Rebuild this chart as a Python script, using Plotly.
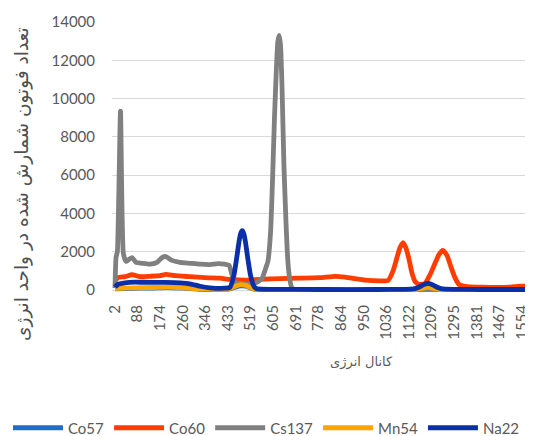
import plotly.graph_objects as go

# ---------------- data ----------------
x_tick_labels = [2, 88, 174, 260, 346, 433, 519, 605, 691, 778, 864, 950,
                 1036, 1122, 1209, 1295, 1381, 1467, 1554]
y_tick_values = [0, 2000, 4000, 6000, 8000, 10000, 12000, 14000]

series_names = ["Co57", "Co60", "Cs137", "Mn54", "Na22"]
series_colors = ["#1A6FCC", "#FF3D00", "#808080", "#FFA500", "#0A2FA6"]

ch_co57 = [2, 40, 100, 150, 200, 260, 330, 400, 440, 460, 480, 500, 520, 540,
           600, 800, 1000, 1150, 1175, 1195, 1215, 1240, 1400, 1640]
cnt_co57 = [60, 80, 100, 110, 130, 100, 40, 30, 60, 150, 220, 200, 100, 20,
            10, 10, 10, 20, 80, 130, 80, 20, 10, 10]

ch_co60 = [2, 13, 40, 67, 97, 135, 174, 196, 231, 288, 345, 402, 440, 498,
           555, 631, 707, 783, 841, 879, 917, 955, 1012, 1043, 1062, 1077,
           1088, 1100, 1111, 1123, 1134, 1146, 1161, 1184, 1203, 1222, 1237,
           1252, 1268, 1283, 1298, 1313, 1336, 1400, 1508, 1546, 1640]
cnt_co60 = [500, 650, 700, 800, 700, 720, 750, 820, 750, 700, 650, 620, 560,
            520, 560, 600, 620, 650, 720, 680, 600, 520, 480, 500, 1000, 1700,
            2200, 2480, 2200, 1600, 900, 450, 300, 350, 800, 1400, 1850,
            2070, 1800, 1200, 650, 300, 200, 150, 150, 200, 200]

ch_cs137 = [2, 6, 11, 23, 34, 44, 55, 67, 82, 105, 135, 162, 181, 196, 219,
            250, 288, 326, 364, 395, 421, 437, 448, 459, 479, 509, 536, 562,
            578, 585, 595, 602, 610, 618, 623, 628, 633, 639, 646, 654, 661,
            669, 677, 690, 900, 1200, 1640]
cnt_cs137 = [100, 1700, 2000, 9350, 1900, 1500, 1600, 1700, 1450, 1400, 1350,
             1450, 1700, 1750, 1550, 1450, 1400, 1350, 1330, 1380, 1350, 1300,
             800, 400, 350, 300, 350, 600, 1200, 1500, 3000, 5500, 9000,
             11800, 13000, 13300, 12800, 10500, 6500, 3500, 1500, 500, 100,
             30, 20, 20, 10]

ch_mn54 = [2, 40, 100, 150, 200, 260, 330, 400, 440, 460, 480, 500, 520, 540,
           600, 800, 1000, 1150, 1175, 1195, 1215, 1240, 1400, 1640]
cnt_mn54 = [80, 100, 120, 130, 150, 120, 60, 40, 80, 200, 280, 250, 120, 30,
            20, 20, 20, 30, 100, 160, 100, 30, 10, 10]

ch_na22 = [2, 13, 40, 78, 135, 193, 250, 288, 326, 364, 421, 440, 455, 465,
           475, 481, 487, 493, 499, 509, 519, 534, 545, 600, 800, 1000, 1100,
           1140, 1160, 1180, 1195, 1210, 1230, 1250, 1300, 1400, 1500, 1640]
cnt_na22 = [150, 300, 380, 420, 400, 400, 380, 330, 200, 120, 100, 145, 750,
            1590, 2540, 2950, 3100, 2950, 2540, 1590, 750, 145, 60, 40, 30,
            30, 40, 60, 150, 290, 350, 290, 150, 60, 40, 30, 30, 30]

x_title = "کانال انرژی"
y_title = "تعداد فوتون شمارش شده در واحد انرژی"

# ---------------- figure ----------------
# the page places the figure 8px in from the top-left corner of the window
W, H = 533, 436
L, T, B = 104, 14, 152
plot_w = W - L
plot_h = H - T - B
plot_bottom = T + plot_h

all_x = [ch_co57, ch_co60, ch_cs137, ch_mn54, ch_na22]
all_y = [cnt_co57, cnt_co60, cnt_cs137, cnt_mn54, cnt_na22]

fig = go.Figure()
for name, color, xs, ys in zip(series_names, series_colors, all_x, all_y):
    fig.add_trace(go.Scatter(
        x=xs, y=ys, name=name, mode="lines",
        line=dict(color=color, width=4.8, shape="spline", smoothing=0.5),
    ))

tick_font = dict(family="Lato, 'Liberation Sans', sans-serif", size=15, color="#595959")

fig.update_layout(
    width=W, height=H,
    margin=dict(l=L, r=0, t=T, b=B, autoexpand=False),
    paper_bgcolor="white", plot_bgcolor="white",
    showlegend=True,
    legend=dict(
        orientation="h",
        x=(0 - L) / plot_w, xanchor="left",
        y=-(420 - plot_bottom) / plot_h, yanchor="middle",
        font=tick_font,
        itemwidth=50,
        traceorder="normal",
        bgcolor="rgba(0,0,0,0)",
    ),
    xaxis=dict(
        range=[-9.4, 1626],
        tickmode="array", tickvals=x_tick_labels,
        ticktext=[str(v) for v in x_tick_labels],
        tickangle=-90, tickfont=tick_font,
        showgrid=False, zeroline=False, showline=False,
        ticks="", ticklabelstandoff=9,
    ),
    yaxis=dict(
        range=[-100, 14000],
        tickmode="array", tickvals=y_tick_values,
        ticktext=[str(v) for v in y_tick_values],
        tickfont=tick_font,
        showgrid=True, gridcolor="#D9D9D9", gridwidth=1,
        zeroline=False, showline=False,
        ticks="", ticklabelstandoff=16,
    ),
    annotations=[
        dict(text=x_title, xref="paper", yref="paper",
             x=(353 - L) / plot_w, y=-(354 - plot_bottom) / plot_h,
             xanchor="center", yanchor="middle", showarrow=False,
             font=dict(family="'DejaVu Sans', sans-serif", size=13, color="#595959")),
        dict(text=y_title, xref="paper", yref="paper", textangle=-90,
             x=(14 - L) / plot_w, y=1 - (176 - T) / plot_h,
             xanchor="center", yanchor="middle", showarrow=False,
             font=dict(family="'DejaVu Sans', sans-serif", size=18.5, color="#505050")),
    ],
)

fig.write_html("out.html")
